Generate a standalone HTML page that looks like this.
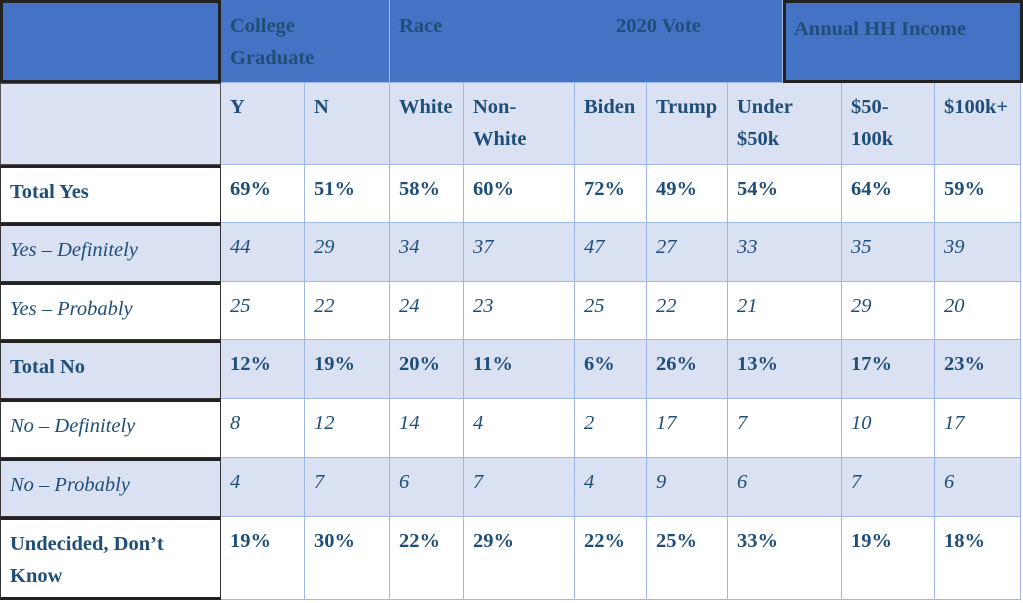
<!DOCTYPE html>
<html><head><meta charset="utf-8"><style>
body{margin:0;width:1023px;height:603px;background:#fff;overflow:hidden;font-family:"Liberation Serif",serif;}
#t{position:relative;width:1023px;height:603px;}
.c{position:absolute;box-sizing:border-box;padding:8px 0 0 9px;color:#1f4e79;font-size:20.5px;line-height:32px;font-weight:bold;border-right:1px solid #9fb8e6;border-bottom:1px solid #9fb8e6;}
.h{background:#4472c4;color:#1f4e79;font-size:20.5px;padding-top:10px;}
.s{background:#dae1f2;}
.w{background:#fff;}
.it{font-style:italic;font-weight:normal;}
.lab{border:1.5px solid #333;border-top:3px solid #222;}
</style></head><body>
<div id="t"></div>
<script>
const rowLabels=["Total Yes","Yes – Definitely","Yes – Probably","Total No","No – Definitely","No – Probably","Undecided, Don’t<br>Know"];
const subHeads=["Y","N","White","Non-<br>White","Biden","Trump","Under<br>$50k","$50-<br>100k","$100k+"];
const vals=[
["69%","51%","58%","60%","72%","49%","54%","64%","59%"],
["44","29","34","37","47","27","33","35","39"],
["25","22","24","23","25","22","21","29","20"],
["12%","19%","20%","11%","6%","26%","13%","17%","23%"],
["8","12","14","4","2","17","7","10","17"],
["4","7","6","7","4","9","6","7","6"],
["19%","30%","22%","29%","22%","25%","33%","19%","18%"]];
const colX=[0,221,305,390,464,575,647,728,842,935,1021];
const rowY=[0,83,165,223,282,340,399,458,517,600];
const t=document.getElementById('t');
function cell(x,y,w,h,cls,html){const d=document.createElement('div');d.className='c '+cls;d.style.left=x+'px';d.style.top=y+'px';d.style.width=w+'px';d.style.height=h+'px';d.innerHTML=html;t.appendChild(d);return d;}
let d;
d=cell(0,0,221,83,'h','');d.style.border='3px solid #222';


d=cell(221,0,169,83,'h','College<br>Graduate');


d=cell(390,0,393,83,'h','Race<span style="position:absolute;left:226px;top:10px">2020 Vote</span>');


d=cell(783,0,240,83,'h','Annual HH Income');d.style.border='3px solid #222';d.style.paddingLeft='8px';


d=cell(0,83,221,82,'s','');d.style.border='1.5px solid #555';


for(let j=0;j<subHeads.length;j++){
 d=cell(colX[j+1],83,colX[j+2]-colX[j+1],82,'s',subHeads[j]);
 
 
}
for(let i=0;i<rowLabels.length;i++){
 const bold=(i===0||i===3||i===6);
 const bg=(i%2===0)?'w':'s';
 const y=rowY[i+2],h=rowY[i+3]-y;
 d=cell(0,y,221,h,bg+' lab'+(bold?'':' it'),rowLabels[i]);
 if(i===6)d.style.borderBottom='3px solid #222';
 
 
 for(let j=0;j<9;j++){
  d=cell(colX[j+1],y,colX[j+2]-colX[j+1],h,bg+(bold?'':' it'),vals[i][j]);
  
  
 }
}
</script>
</body></html>
